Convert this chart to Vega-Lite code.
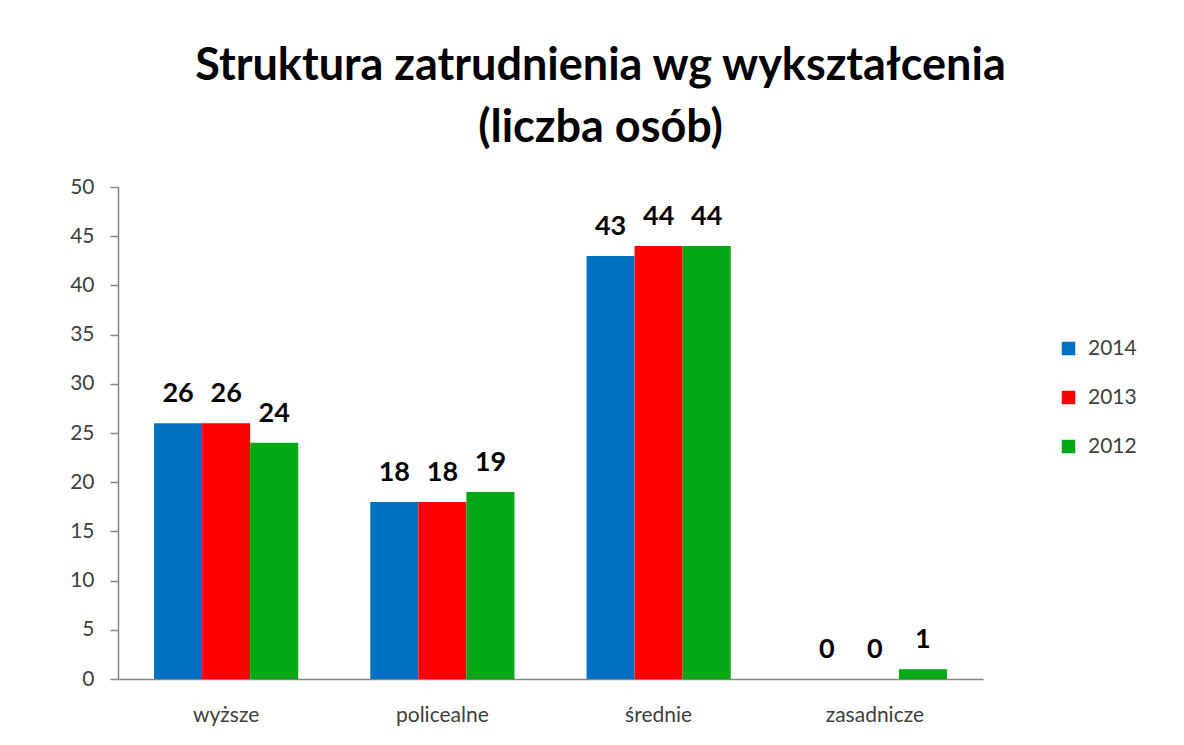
{
  "$schema": "https://vega.github.io/schema/vega-lite/v6.json",
  "width": 865,
  "height": 492,
  "autosize": {"type": "none"},
  "padding": {"left": 118, "top": 187, "right": 201, "bottom": 66},
  "background": "white",
  "title": {
    "text": ["Struktura zatrudnienia wg wykształcenia", "(liczba osób)"],
    "font": "Lato",
    "fontSize": 45,
    "fontWeight": "bold",
    "color": "#000000",
    "anchor": "middle",
    "dx": 50,
    "offset": 25,
    "lineHeight": 62
  },
  "data": {
    "values": [
      {"kategoria": "wyższe", "rok": "2014", "liczba": 26},
      {"kategoria": "wyższe", "rok": "2013", "liczba": 26},
      {"kategoria": "wyższe", "rok": "2012", "liczba": 24},
      {"kategoria": "policealne", "rok": "2014", "liczba": 18},
      {"kategoria": "policealne", "rok": "2013", "liczba": 18},
      {"kategoria": "policealne", "rok": "2012", "liczba": 19},
      {"kategoria": "średnie", "rok": "2014", "liczba": 43},
      {"kategoria": "średnie", "rok": "2013", "liczba": 44},
      {"kategoria": "średnie", "rok": "2012", "liczba": 44},
      {"kategoria": "zasadnicze", "rok": "2014", "liczba": 0},
      {"kategoria": "zasadnicze", "rok": "2013", "liczba": 0},
      {"kategoria": "zasadnicze", "rok": "2012", "liczba": 1}
    ]
  },
  "encoding": {
    "x": {
      "field": "kategoria",
      "type": "nominal",
      "sort": ["wyższe", "policealne", "średnie", "zasadnicze"],
      "scale": {"paddingInner": 0.3333, "paddingOuter": 0.1667},
      "axis": {
        "title": null,
        "labelAngle": 0,
        "labelFont": "Lato",
        "labelFontSize": 21,
        "labelColor": "#404040",
        "labelPadding": 25,
        "ticks": false,
        "domainColor": "#868686",
        "domainWidth": 1.5
      }
    },
    "xOffset": {"field": "rok", "type": "nominal", "sort": ["2014", "2013", "2012"]},
    "y": {
      "field": "liczba",
      "type": "quantitative",
      "scale": {"domain": [0, 50], "nice": false},
      "axis": {
        "title": null,
        "values": [0, 5, 10, 15, 20, 25, 30, 35, 40, 45, 50],
        "grid": false,
        "labelFont": "Lato",
        "labelFontSize": 21,
        "labelColor": "#404040",
        "labelPadding": 16,
        "tickColor": "#868686",
        "tickSize": 8,
        "tickWidth": 1.5,
        "domainColor": "#868686",
        "domainWidth": 1.5
      }
    }
  },
  "layer": [
    {
      "mark": {"type": "bar"},
      "encoding": {
        "color": {
          "field": "rok",
          "type": "nominal",
          "sort": ["2014", "2013", "2012"],
          "scale": {"domain": ["2014", "2013", "2012"], "range": ["#0070C0", "#FF0000", "#00A816"]},
          "legend": {
            "title": null,
            "orient": "none",
            "legendX": 940,
            "legendY": 151,
            "symbolType": "square",
            "symbolSize": 182,
            "symbolStrokeWidth": 0,
            "labelFont": "Lato",
            "labelFontSize": 21,
            "labelColor": "#404040",
            "labelOffset": 9,
            "rowPadding": 27
          }
        }
      }
    },
    {
      "mark": {"type": "text", "font": "Lato", "fontSize": 27, "fontWeight": "bold", "color": "#000000", "baseline": "alphabetic", "dy": -21},
      "encoding": {"text": {"field": "liczba", "type": "quantitative"}}
    }
  ],
  "config": {"view": {"stroke": null}}
}
